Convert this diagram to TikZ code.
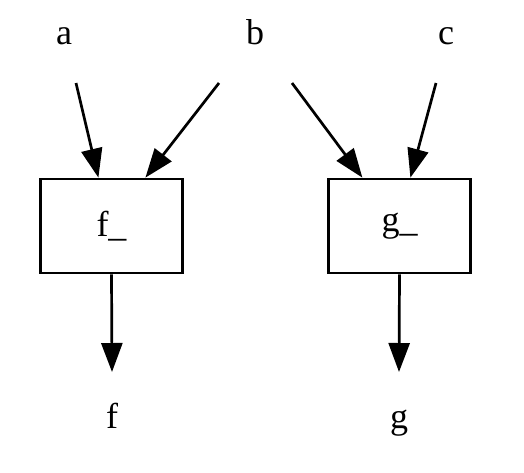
\documentclass[tikz,border=0pt]{standalone}
\usepackage{fontspec}
\setmainfont{Liberation Serif}
\usetikzlibrary{arrows.meta,calc}
\begin{document}
\begin{tikzpicture}[x=1pt,y=1pt,
  lbl/.style={inner sep=0pt,anchor=base,font=\fontsize{36}{40}\selectfont},
  boxnode/.style={draw,line width=2.7pt,minimum width=142.5pt,minimum height=94pt,inner sep=0pt,font=\fontsize{36}{40}\selectfont},
  edge/.style={line width=2.7pt,-{Triangle[length=29pt,width=21pt]}}]
\useasboundingbox (0,0) rectangle (524,-472);
\node[lbl] (a) at (64,-44) {a};
\node[lbl] (b) at (255,-44) {b};
\node[lbl] (c) at (446,-44) {c};
\node[boxnode] (fb) at (111.5,-226) {f\_};
\node[boxnode] (gb) at (399.5,-226) {g\_};
\node[lbl] (f) at (112,-428) {f};
\node[lbl] (g) at (399,-428) {g};
\draw[edge] ($(a.base)+(12,-39)$) -- ($(fb.north west)+(59.5,0)$);
\draw[edge] ($(b.base)+(-36,-39)$) -- ($(fb.north west)+(106.5,0)$);
\draw[edge] ($(b.base)+(37,-39)$) -- ($(gb.north west)+(35.5,0)$);
\draw[edge] ($(c.base)+(-10,-39)$) -- ($(gb.north west)+(83.5,0)$);
\draw[edge] (fb.south) -- ($(f.base)+(0,56)$);
\draw[edge] (gb.south) -- ($(g.base)+(0,56)$);
\end{tikzpicture}
\end{document}
